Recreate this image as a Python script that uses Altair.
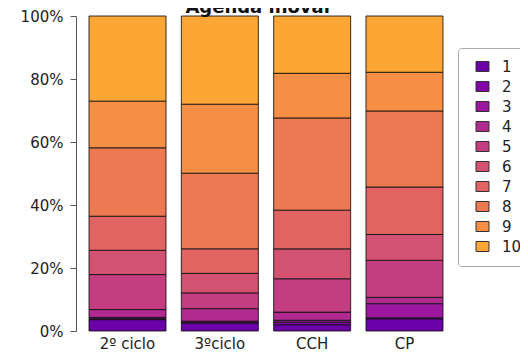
import altair as alt
import pandas as pd

categories = ["2º ciclo", "3ºciclo", "CCH", "CP"]
levels = ["1", "2", "3", "4", "5", "6", "7", "8", "9", "10"]
colors = ["#6a00a8", "#8405a7", "#9c179e", "#b12a90", "#c33d80",
          "#d35171", "#e16462", "#ed7953", "#f68f44", "#fca636"]

v1 = [3.6, 2.5, 2.0, 3.9]
v2 = [0.3, 0.3, 0.8, 0.3]
v3 = [0.4, 0.3, 0.6, 4.5]
v4 = [2.5, 4.0, 2.6, 2.0]
v5 = [11.1, 5.0, 10.6, 11.8]
v6 = [7.7, 6.2, 9.5, 8.2]
v7 = [10.8, 7.8, 12.3, 15.1]
v8 = [21.7, 24.0, 29.3, 24.2]
v9 = [14.8, 21.9, 14.2, 12.3]
v10 = [27.0, 28.0, 18.2, 17.9]
series = [v1, v2, v3, v4, v5, v6, v7, v8, v9, v10]

rows = []
for i, (lvl, vals) in enumerate(zip(levels, series)):
    for cat, v in zip(categories, vals):
        rows.append({"cat": cat, "lvl": lvl, "idx": i, "val": v})
df = pd.DataFrame(rows)

FONT = "DejaVu Sans"

bars = alt.Chart(df).mark_bar(stroke="#111", strokeWidth=1, strokeOpacity=0.85).encode(
    x=alt.X("cat:N", sort=categories,
            scale=alt.Scale(paddingInner=0.166, paddingOuter=0.0975),
            axis=alt.Axis(title=None, labelAngle=0, domain=False, ticks=False,
                          labelPadding=5, labelFontSize=15, labelFont=FONT,
                          labelColor="#222")),
    y=alt.Y("val:Q", stack="normalize", scale=alt.Scale(domain=[0, 1]),
            axis=alt.Axis(title=None, format=".0%", values=[0, 0.2, 0.4, 0.6, 0.8, 1.0],
                          offset=4, tickSize=6, labelPadding=7, grid=False,
                          labelFontSize=15, labelFont=FONT, labelColor="#222",
                          domainColor="#555", tickColor="#555")),
    color=alt.Color("lvl:N", scale=alt.Scale(domain=levels, range=colors),
                    legend=alt.Legend(title=None, orient="none", legendX=378, legendY=32,
                                      direction="vertical",
                                      symbolType="M-1,-0.77H1V0.77H-1Z", symbolSize=169,
                                      symbolStrokeColor="#333", symbolStrokeWidth=1,
                                      symbolOpacity=1,
                                      labelFontSize=15, labelFont=FONT, labelColor="#222",
                                      rowPadding=4, padding=11, labelOffset=12,
                                      symbolOffset=6,
                                      strokeColor="#aaa", fillColor="white",
                                      cornerRadius=3)),
    order=alt.Order("idx:Q", sort="ascending"),
)

title = alt.Chart(pd.DataFrame({"t": ["Agenda inovar"]})).mark_text(
    font=FONT, fontSize=18, fontWeight="bold", baseline="alphabetic", align="center",
    color="#111"
).encode(text="t:N", x=alt.value(179), y=alt.value(-3))

chart = alt.layer(bars, title).properties(
    width=372, height=315,
    autosize=alt.AutoSizeParams(type="none"),
    padding={"left": 72, "top": 8, "right": 68, "bottom": 23},
).configure_view(stroke=None)

chart.save("out.html", embed_options={"renderer": "svg", "actions": False})
